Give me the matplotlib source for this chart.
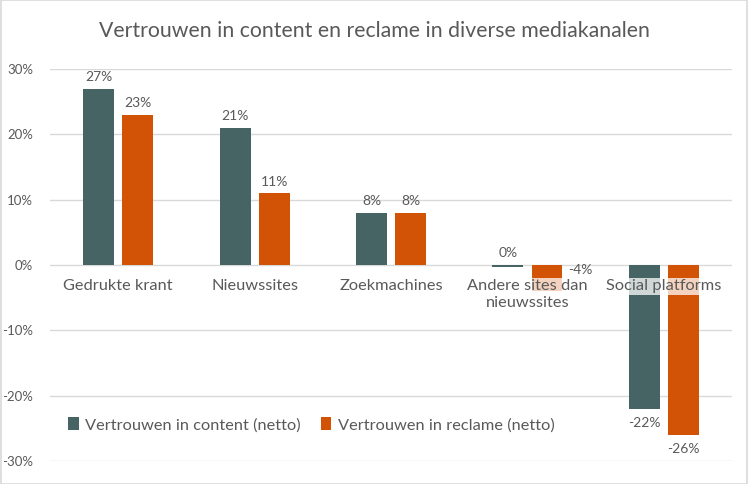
import matplotlib.pyplot as plt
import matplotlib.patches as mpatches
import numpy as np

plt.rcParams["font.family"] = ["Lato", "DejaVu Sans"]

TEAL = "#466463"
ORANGE = "#D35306"
TXT = "#595959"
GRID = "#D9D9D9"

categories = ["Gedrukte krant", "Nieuwssites", "Zoekmachines",
              "Andere sites dan\nnieuwssites", "Social platforms"]
content = [27, 21, 8, -0.3, -22]
reclame = [23, 11, 8, -4, -26]
content_labels = ["27%", "21%", "8%", "0%", "-22%"]
reclame_labels = ["23%", "11%", "8%", "-4%", "-26%"]
yticks = [-30, -20, -10, 0, 10, 20, 30]

fig = plt.figure(figsize=(7.48, 4.84), dpi=100)
ax = fig.add_axes([0.0668, 0.0475, 0.912, 0.81])

x = np.arange(len(categories))
off, w = 0.143, 0.227
b1 = ax.bar(x - off, content, width=w, color=TEAL, zorder=2,
            label="Vertrouwen in content (netto)")
b2 = ax.bar(x + off, reclame, width=w, color=ORANGE, zorder=2,
            label="Vertrouwen in reclame (netto)")

# value labels
for bars, vals, labs in [(b1, content, content_labels), (b2, reclame, reclame_labels)]:
    for bar, v, lab in zip(bars, vals, labs):
        cx = bar.get_x() + bar.get_width() / 2
        if v >= -1:
            ax.annotate(lab, (cx, max(v, 0)), xytext=(0, 4), textcoords="offset points",
                        ha="center", va="bottom", fontsize=10, color=TXT)
        elif v > -10:
            # short negative bar: Excel pushes the label to the side
            ax.annotate(lab, (bar.get_x() + bar.get_width(), -0.7), xytext=(4, 0),
                        textcoords="offset points", ha="left", va="center",
                        fontsize=10, color=TXT)
        else:
            ax.annotate(lab, (cx, v), xytext=(0, -6), textcoords="offset points",
                        ha="center", va="top", fontsize=10, color=TXT)

# category labels sit just below zero line
for xi, cat in zip(x, categories):
    ax.text(xi, -2.2, cat, ha="center", va="top", fontsize=11.8, color=TXT,
            linespacing=1.25, zorder=3,
            bbox=dict(facecolor="white", alpha=0.75, edgecolor="none", pad=1))

ax.set_ylim(-30, 30)
ax.set_xlim(-0.5, len(categories) - 0.5)
ax.set_yticks(yticks)
ax.set_yticklabels([f"{t}%" for t in yticks], fontsize=9.5, color=TXT)
ax.set_xticks([])
ax.tick_params(axis="y", length=0, pad=12)
for s in ax.spines.values():
    s.set_visible(False)
ax.grid(axis="y", color=GRID, linewidth=1, zorder=0)
ax.set_axisbelow(True)

ax.legend(loc="lower left", bbox_to_anchor=(0.005, 0.035), ncol=2, frameon=False,
          fontsize=11.8, labelcolor=TXT, handlelength=0.65, handleheight=0.85,
          handletextpad=0.4, columnspacing=1.2)

fig.text(0.5, 0.935, "Vertrouwen in content en reclame in diverse mediakanalen",
         ha="center", va="center", fontsize=15.3, color=TXT)

fig.patches.append(mpatches.Rectangle((0.001, 0.001), 0.998, 0.998, transform=fig.transFigure,
                                      fill=False, edgecolor=GRID, linewidth=1.2))

fig.savefig("out.png", dpi=100)
